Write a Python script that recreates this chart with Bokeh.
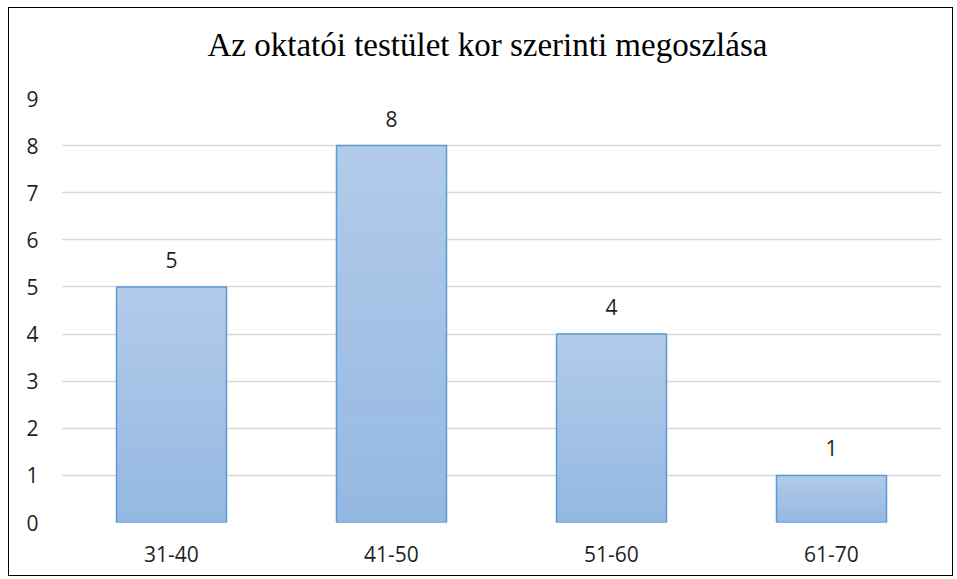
from bokeh.plotting import figure
from bokeh.models import ColumnDataSource, FixedTicker, Title
from bokeh.core.properties import value
from bokeh.embed import file_html
from bokeh.resources import INLINE

title_text = "Az oktatói testület kor szerinti megoszlása"
categories = ["31-40", "41-50", "51-60", "61-70"]
counts = [5, 8, 4, 1]
y_ticks = [0, 1, 2, 3, 4, 5, 6, 7, 8, 9]

TICK_FONT = "Open Sans"
top_color = (178, 203, 233)
bot_color = (148, 184, 226)

p = figure(
    x_range=categories, y_range=(0, 9),
    width=945, height=569, title=None,
    output_backend="svg", toolbar_location=None,
    min_border_left=52, min_border_right=13,
    min_border_top=90, min_border_bottom=55,
)
p.styles = {"border": "1px solid #000000", "margin-left": "8px", "margin-top": "7px"}
p.outline_line_color = None
p.background_fill_color = "white"
p.border_fill_color = "white"

# gradient bars: slices of each bar from bottom (darker) to top (lighter)
N = 40
xs, bottoms, tops, colors = [], [], [], []
for c, v in zip(categories, counts):
    for i in range(N):
        t = (i + 0.5) / N
        r = round(bot_color[0] + (top_color[0] - bot_color[0]) * t)
        g = round(bot_color[1] + (top_color[1] - bot_color[1]) * t)
        b = round(bot_color[2] + (top_color[2] - bot_color[2]) * t)
        xs.append(c)
        bottoms.append(v * i / N)
        tops.append(v * (i + 1) / N)
        colors.append("#%02x%02x%02x" % (r, g, b))
grad = ColumnDataSource(dict(x=xs, bottom=bottoms, top=tops, color=colors))
p.vbar(x="x", bottom="bottom", top="top", width=0.5, source=grad,
       fill_color="color", line_color="color", line_width=1)

src = ColumnDataSource(dict(x=categories, top=counts, label=[str(v) for v in counts]))
p.vbar(x="x", top="top", width=0.5, source=src,
       fill_color=None, line_color="#5b9bd5", line_width=1.5)

p.text(x="x", y="top", text="label", source=src,
       text_align="center", text_baseline="middle", y_offset=-27,
       text_font=value(TICK_FONT), text_font_size="21px", text_color="#1f1f1f")

# axes
p.xaxis.axis_line_color = None
p.xaxis.major_tick_line_color = None
p.xaxis.minor_tick_line_color = None
p.xaxis.major_tick_out = 0
p.xaxis.major_label_standoff = 23
p.xaxis.major_label_text_font = TICK_FONT
p.xaxis.major_label_text_font_size = "21px"
p.xaxis.major_label_text_color = "#1f1f1f"

p.yaxis.ticker = FixedTicker(ticks=y_ticks)
p.yaxis.axis_line_color = None
p.yaxis.major_tick_line_color = None
p.yaxis.minor_tick_line_color = None
p.yaxis.major_tick_out = 0
p.yaxis.major_label_standoff = 23
p.yaxis.major_label_text_font = TICK_FONT
p.yaxis.major_label_text_font_size = "21px"
p.yaxis.major_label_text_color = "#1f1f1f"

p.xgrid.grid_line_color = None
p.ygrid.grid_line_color = "#d9d9d9"
p.ygrid.grid_line_width = 1.5
p.ygrid.ticker = FixedTicker(ticks=y_ticks)

# spacer between frame and title, then the title itself (outermost)
spacer = Title(text=" ", text_font_size="1px", standoff=33)
p.add_layout(spacer, "above")
main_title = Title(text=title_text, align="left", offset=146, standoff=0,
                   text_font="Liberation Serif", text_font_size="33px",
                   text_font_style="normal", text_color="#000000")
p.add_layout(main_title, "above")

open("out.html", "w").write(file_html(p, INLINE))
